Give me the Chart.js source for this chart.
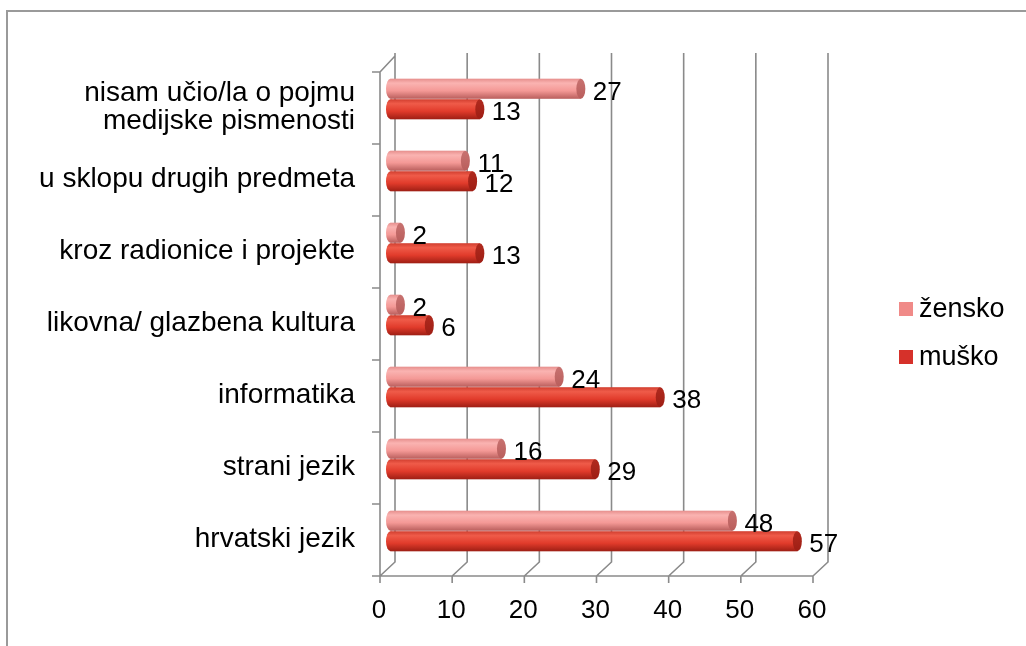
<!DOCTYPE html>
<html>
<head>
<meta charset="utf-8">
<script src="https://cdn.jsdelivr.net/npm/chart.js@4.4.1/dist/chart.umd.min.js"></script>
<style>
  html, body { margin: 0; padding: 0; background: #ffffff; }
  #wrap { width: 1026px; height: 646px; }
</style>
</head>
<body>
<div id="wrap"><canvas id="c" width="1026" height="646"></canvas></div>
<script>
const categories = [
  ["nisam učio/la o pojmu", "medijske pismenosti"],
  "u sklopu drugih predmeta",
  "kroz radionice i projekte",
  "likovna/ glazbena kultura",
  "informatika",
  "strani jezik",
  "hrvatski jezik"
];
const seriesNames = ["žensko", "muško"];
const zensko = [27, 11, 2, 2, 24, 16, 48];
const musko = [13, 12, 13, 6, 38, 29, 57];
const xTicks = [0, 10, 20, 30, 40, 50, 60];

const FONT = "'Liberation Sans', Arial, sans-serif";
const styles = [
  { legend: '#F08A88', stops: ['#E68E8C', '#FAB3B1', '#F49996', '#B95E5C'], cap: '#C87270' },
  { legend: '#D6312A', stops: ['#D13E2F', '#EF5B49', '#E13B2B', '#9E1E14'], cap: '#B02A1E' }
];

const framePlugin = {
  id: 'frame3d',
  beforeDraw(chart) {
    const ctx = chart.ctx;
    ctx.save();
    ctx.strokeStyle = '#9a9a9a';
    ctx.lineWidth = 2;
    ctx.beginPath();
    ctx.moveTo(7, 646);
    ctx.lineTo(7, 11);
    ctx.lineTo(1026, 11);
    ctx.stroke();
    ctx.restore();
  },
  beforeDatasetsDraw(chart) {
    const ctx = chart.ctx;
    const xs = chart.scales.x;
    const { top, bottom } = chart.chartArea;
    const back = 9, front = -6;
    const backTop = top - 10, backBot = bottom - 5, frontBot = bottom + 9;
    ctx.save();
    ctx.strokeStyle = '#8a8a8a';
    ctx.lineWidth = 1.6;
    ctx.beginPath();
    xTicks.forEach(v => {
      const p = xs.getPixelForValue(v);
      ctx.moveTo(p + back, backTop);
      ctx.lineTo(p + back, backBot);
      ctx.lineTo(p + front, frontBot);
      ctx.lineTo(p + front, frontBot + 7);
    });
    const p0 = xs.getPixelForValue(xTicks[0]);
    const pN = xs.getPixelForValue(xTicks[xTicks.length - 1]);
    ctx.moveTo(p0 + front, frontBot);
    ctx.lineTo(pN + front, frontBot);
    const band = (bottom - top) / categories.length;
    const frontTop = frontBot - band * categories.length;
    ctx.moveTo(p0 + front, frontBot);
    ctx.lineTo(p0 + front, frontTop);
    ctx.lineTo(p0 + back, backTop + 3);
    for (let k = 0; k <= categories.length; k++) {
      const y = frontBot - k * band;
      ctx.moveTo(p0 + front - 8, y);
      ctx.lineTo(p0 + front, y);
    }
    ctx.stroke();
    ctx.restore();
  },
  afterDatasetsDraw(chart) {
    const ctx = chart.ctx;
    ctx.save();
    chart.data.datasets.forEach((ds, di) => {
      const meta = chart.getDatasetMeta(di);
      const st = styles[di];
      meta.data.forEach(el => {
        const h = el.height;
        const yT = el.y - h / 2, yB = el.y + h / 2;
        const rx = 4.5;
        const x0 = el.base + rx, x1 = el.x;
        const g = ctx.createLinearGradient(0, yT, 0, yB);
        g.addColorStop(0, st.stops[0]);
        g.addColorStop(0.22, st.stops[1]);
        g.addColorStop(0.6, st.stops[2]);
        g.addColorStop(1, st.stops[3]);
        ctx.fillStyle = g;
        ctx.beginPath();
        ctx.ellipse(x0, el.y, rx, h / 2, 0, 0, Math.PI * 2);
        ctx.fill();
        if (x1 > x0) ctx.fillRect(x0, yT, x1 - x0, h);
        const gc = ctx.createLinearGradient(0, yT, 0, yB);
        gc.addColorStop(0, st.cap);
        gc.addColorStop(1, st.stops[3]);
        ctx.fillStyle = gc;
        ctx.beginPath();
        ctx.ellipse(Math.max(x1, x0), el.y, rx, h / 2, 0, 0, Math.PI * 2);
        ctx.fill();
      });
    });
    ctx.fillStyle = '#000';
    ctx.font = '26px ' + FONT;
    ctx.textAlign = 'left';
    ctx.textBaseline = 'middle';
    chart.data.datasets.forEach((ds, di) => {
      const meta = chart.getDatasetMeta(di);
      meta.data.forEach((el, i) => {
        ctx.fillText(String(ds.data[i]), el.x + 12, el.y + 4);
      });
    });
    ctx.restore();
  },
  afterDraw(chart) {
    const ctx = chart.ctx;
    ctx.save();
    ctx.font = '27px ' + FONT;
    ctx.textAlign = 'left';
    ctx.textBaseline = 'middle';
    chart.data.datasets.forEach((ds, di) => {
      const y = 309 + di * 48;
      ctx.fillStyle = styles[di].legend;
      ctx.fillRect(899, y - 7, 14, 14);
      ctx.fillStyle = '#000';
      ctx.fillText(ds.label, 919, y + 1);
    });
    ctx.restore();
  }
};

new Chart(document.getElementById('c'), {
  type: 'bar',
  data: {
    labels: categories,
    datasets: [
      { label: seriesNames[0], data: zensko, backgroundColor: 'rgba(0,0,0,0)' },
      { label: seriesNames[1], data: musko, backgroundColor: 'rgba(0,0,0,0)' }
    ]
  },
  options: {
    indexAxis: 'y',
    responsive: false,
    animation: false,
    devicePixelRatio: 1,
    categoryPercentage: 0.57,
    barPercentage: 0.98,
    layout: { padding: { top: 63, right: 207, left: 0, bottom: 0 } },
    plugins: { legend: { display: false }, tooltip: { enabled: false } },
    scales: {
      x: {
        min: 0, max: 60,
        afterFit(scale) { scale.height = 79; },
        afterBuildTicks(scale) { scale.ticks = xTicks.map(v => ({ value: v })); },
        grid: { display: false, drawTicks: false },
        border: { display: false },
        ticks: { color: '#000', font: { family: FONT, size: 26 }, padding: 28, labelOffset: -7 }
      },
      y: {
        afterFit(scale) { scale.width = 386; },
        grid: { display: false, drawTicks: false },
        border: { display: false },
        ticks: { color: '#000', font: { family: FONT, size: 28, lineHeight: 1.0 }, padding: 31, labelOffset: 8 }
      }
    }
  },
  plugins: [framePlugin]
});
</script>
</body>
</html>
